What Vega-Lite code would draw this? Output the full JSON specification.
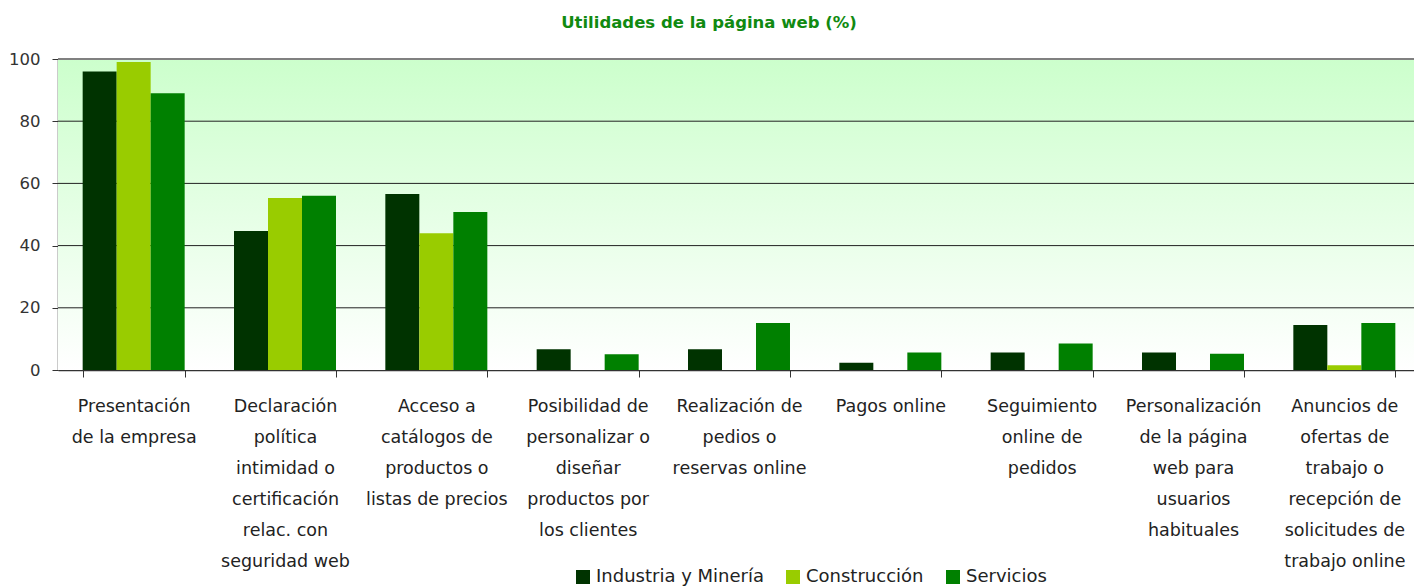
{
  "$schema": "https://vega.github.io/schema/vega-lite/v6.json",
  "width": 1362,
  "height": 311,
  "autosize": {"type": "none"},
  "padding": {"left": 58, "top": 59, "right": 0, "bottom": 216},
  "background": "white",
  "title": {
    "text": "Utilidades de la página web (%)",
    "font": "DejaVu Sans",
    "fontSize": 16.5,
    "fontWeight": "bold",
    "color": "#118a11",
    "anchor": "middle",
    "dx": -30,
    "offset": 20
  },
  "config": {
    "view": {"stroke": null},
    "font": "DejaVu Sans"
  },
  "datasets": {
    "grid": [{"v": 20}, {"v": 40}, {"v": 60}, {"v": 80}],
    "main": [
      {"categoria": "Presentación de la empresa", "sector": "Industria y Minería", "valor": 96},
      {"categoria": "Presentación de la empresa", "sector": "Construcción", "valor": 99},
      {"categoria": "Presentación de la empresa", "sector": "Servicios", "valor": 89},
      {"categoria": "Declaración política intimidad o certificación relac. con seguridad web", "sector": "Industria y Minería", "valor": 44.7},
      {"categoria": "Declaración política intimidad o certificación relac. con seguridad web", "sector": "Construcción", "valor": 55.3},
      {"categoria": "Declaración política intimidad o certificación relac. con seguridad web", "sector": "Servicios", "valor": 56},
      {"categoria": "Acceso a catálogos de productos o listas de precios", "sector": "Industria y Minería", "valor": 56.6},
      {"categoria": "Acceso a catálogos de productos o listas de precios", "sector": "Construcción", "valor": 44},
      {"categoria": "Acceso a catálogos de productos o listas de precios", "sector": "Servicios", "valor": 50.8},
      {"categoria": "Posibilidad de personalizar o diseñar productos por los clientes", "sector": "Industria y Minería", "valor": 6.7},
      {"categoria": "Posibilidad de personalizar o diseñar productos por los clientes", "sector": "Construcción", "valor": 0},
      {"categoria": "Posibilidad de personalizar o diseñar productos por los clientes", "sector": "Servicios", "valor": 5.1},
      {"categoria": "Realización de pedios o reservas online", "sector": "Industria y Minería", "valor": 6.7},
      {"categoria": "Realización de pedios o reservas online", "sector": "Construcción", "valor": 0},
      {"categoria": "Realización de pedios o reservas online", "sector": "Servicios", "valor": 15.1},
      {"categoria": "Pagos online", "sector": "Industria y Minería", "valor": 2.3},
      {"categoria": "Pagos online", "sector": "Construcción", "valor": 0},
      {"categoria": "Pagos online", "sector": "Servicios", "valor": 5.6},
      {"categoria": "Seguimiento online de pedidos", "sector": "Industria y Minería", "valor": 5.6},
      {"categoria": "Seguimiento online de pedidos", "sector": "Construcción", "valor": 0},
      {"categoria": "Seguimiento online de pedidos", "sector": "Servicios", "valor": 8.5},
      {"categoria": "Personalización de la página web para usuarios habituales", "sector": "Industria y Minería", "valor": 5.6},
      {"categoria": "Personalización de la página web para usuarios habituales", "sector": "Construcción", "valor": 0},
      {"categoria": "Personalización de la página web para usuarios habituales", "sector": "Servicios", "valor": 5.2},
      {"categoria": "Anuncios de ofertas de trabajo o recepción de solicitudes de trabajo online", "sector": "Industria y Minería", "valor": 14.5},
      {"categoria": "Anuncios de ofertas de trabajo o recepción de solicitudes de trabajo online", "sector": "Construcción", "valor": 1.5},
      {"categoria": "Anuncios de ofertas de trabajo o recepción de solicitudes de trabajo online", "sector": "Servicios", "valor": 15.1}
    ]
  },
  "layer": [
    {
      "data": {"name": "grid"},
      "mark": {
        "type": "rect",
        "color": {
          "gradient": "linear",
          "x1": 0, "y1": 0, "x2": 0, "y2": 1,
          "stops": [
            {"offset": 0, "color": "#ccffcc"},
            {"offset": 1, "color": "#ffffff"}
          ]
        }
      },
      "encoding": {
        "y": {"datum": 100, "type": "quantitative", "scale": {"domain": [0, 100]}},
        "y2": {"datum": 0}
      }
    },
    {
      "data": {"name": "grid"},
      "mark": {"type": "rule", "color": "#222222", "strokeWidth": 1},
      "encoding": {
        "y": {"field": "v", "type": "quantitative"}
      }
    },
    {
      "data": {"name": "main"},
      "mark": {"type": "bar"},
      "encoding": {
        "x": {
          "field": "categoria",
          "type": "nominal",
          "sort": null,
          "scale": {"paddingInner": 0.326, "paddingOuter": 0.163},
          "axis": {
            "title": null,
            "labelAngle": 0,
            "labelFont": "DejaVu Sans",
            "labelFontSize": 17.5,
            "labelColor": "#222222",
            "labelLineHeight": 31,
            "labelPadding": 20,
            "labelLimit": 0,
            "labelBaseline": "top",
            "tickBand": "extent",
            "tickSize": 7,
            "tickColor": "#333333",
            "domainColor": "#333333",
            "domainWidth": 1.5,
            "labelExpr": "{'Presentación de la empresa': ['Presentación', 'de la empresa'], 'Declaración política intimidad o certificación relac. con seguridad web': ['Declaración', 'política', 'intimidad o', 'certificación', 'relac. con', 'seguridad web'], 'Acceso a catálogos de productos o listas de precios': ['Acceso a', 'catálogos de', 'productos o', 'listas de precios'], 'Posibilidad de personalizar o diseñar productos por los clientes': ['Posibilidad de', 'personalizar o', 'diseñar', 'productos por', 'los clientes'], 'Realización de pedios o reservas online': ['Realización de', 'pedios o', 'reservas online'], 'Pagos online': ['Pagos online'], 'Seguimiento online de pedidos': ['Seguimiento', 'online de', 'pedidos'], 'Personalización de la página web para usuarios habituales': ['Personalización', 'de la página', 'web para', 'usuarios', 'habituales'], 'Anuncios de ofertas de trabajo o recepción de solicitudes de trabajo online': ['Anuncios de', 'ofertas de', 'trabajo o', 'recepción de', 'solicitudes de', 'trabajo online']}[datum.label]"
          }
        },
        "xOffset": {
          "field": "sector",
          "type": "nominal",
          "sort": ["Industria y Minería", "Construcción", "Servicios"],
          "scale": {"paddingInner": 0, "paddingOuter": 0}
        },
        "y": {
          "field": "valor",
          "type": "quantitative",
          "scale": {"domain": [0, 100]},
          "axis": {
            "title": null,
            "values": [0, 20, 40, 60, 80, 100],
            "grid": false,
            "labelFont": "DejaVu Sans",
            "labelFontSize": 16.5,
            "labelColor": "#333333",
            "labelPadding": 12,
            "tickSize": 6,
            "tickColor": "#333333",
            "domainColor": "#333333",
            "domainWidth": 1.5
          }
        },
        "color": {
          "field": "sector",
          "type": "nominal",
          "sort": ["Industria y Minería", "Construcción", "Servicios"],
          "scale": {
            "domain": ["Industria y Minería", "Construcción", "Servicios"],
            "range": ["#003300", "#99cc00", "#008000"]
          },
          "legend": {
            "title": null,
            "orient": "none",
            "direction": "horizontal",
            "legendX": 516,
            "legendY": 509,
            "symbolType": "square",
            "symbolSize": 196,
            "symbolStrokeWidth": 0,
            "symbolOpacity": 1,
            "labelFont": "DejaVu Sans",
            "labelFontSize": 18,
            "labelLimit": 0,
            "labelColor": "#222222",
            "labelOffset": 4,
            "columnPadding": 20
          }
        }
      }
    },
    {
      "data": {"name": "grid"},
      "mark": {"type": "rule", "color": "#808080", "strokeWidth": 2},
      "encoding": {
        "y": {"datum": 100, "type": "quantitative"}
      }
    }
  ]
}
